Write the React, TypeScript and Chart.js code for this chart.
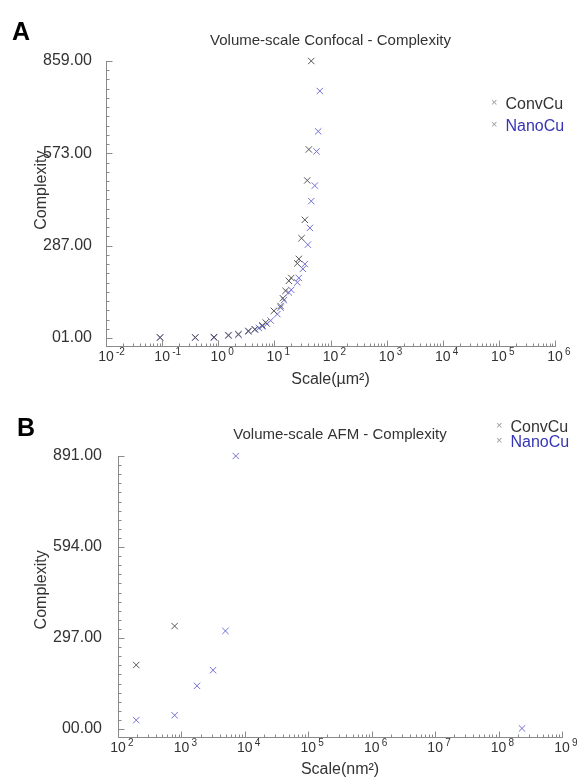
import React, { useEffect, useRef } from 'react';
import { Chart, registerables } from 'chart.js';
Chart.register(...registerables);

const FONT = "'Liberation Sans', Arial, Helvetica, sans-serif";

const seriesNames = ['ConvCu', 'NanoCu'];

// Panel A: Volume-scale Confocal - Complexity
const aConvX = [0.092, 0.39, 0.84, 1.52, 2.29, 3.44, 4.5, 6.1, 7.0, 9.8, 12.9, 14.2, 15.8, 18.1, 20, 25.6, 27.3, 30.5, 34.9, 38.5, 41.1, 45.4];
const aConvY = [3, 3, 4, 10, 13, 23, 28, 40, 49, 85, 100, 124, 147, 178, 187, 232, 246, 310, 367, 489, 585, 859];
const aNanoX = [0.092, 0.39, 0.84, 1.52, 2.29, 3.44, 4.5, 5.3, 6.1, 7.4, 8.6, 11.3, 12.9, 14.8, 18.1, 20, 25.6, 27.3, 32.2, 34.9, 39.5, 42.9, 45.4, 52.6, 56.4, 60.4, 64.6];
const aNanoY = [2, 2, 2, 8, 11, 21, 27, 32, 37, 45, 55, 75, 95, 118, 142, 150, 173, 187, 215, 230, 290, 342, 425, 473, 579, 641, 766];
const aYTicks = [1, 287, 573, 859];
const aYTickLabels = ['01.00', '287.00', '573.00', '859.00'];
const aXExponents = [-2, -1, 0, 1, 2, 3, 4, 5, 6];
const aXTickLabels = ['-2', '-1', '0', '1', '2', '3', '4', '5', '6'];

// Panel B: Volume-scale AFM - Complexity
const bConvX = [194, 781];
const bConvY = [209, 336];
const bNanoX = [194, 781, 1760, 3150, 4940, 7180, 2.34e8];
const bNanoY = [29, 45, 141, 192, 320, 891, 2];
const bYTicks = [0, 297, 594, 891];
const bYTickLabels = ['00.00', '297.00', '594.00', '891.00'];
const bXExponents = [2, 3, 4, 5, 6, 7, 8, 9];
const bXTickLabels = ['2', '3', '4', '5', '6', '7', '8', '9'];

const convColor = '#555555';
const nanoColor = '#7070d4';
const axisColor = '#8a8a8a';
const textColor = '#333333';

const innerTicks = {
  id: 'innerTicks',
  afterDraw(chart: any, _args: any, opts: any) {
    const { ctx, chartArea } = chart;
    const xs = chart.scales.x;
    const ys = chart.scales.y;
    ctx.save();
    ctx.strokeStyle = axisColor;
    ctx.lineWidth = 1;
    const exps: number[] = opts.xExps;
    const bottom = Math.round(chartArea.bottom) + 0.5;
    exps.forEach((e, i) => {
      const kmax = i === exps.length - 1 ? 1 : 9;
      for (let k = 1; k <= kmax; k++) {
        const px = Math.round(xs.getPixelForValue(k * Math.pow(10, e))) + 0.5;
        const len = k === 1 ? 6 : 3;
        ctx.beginPath();
        ctx.moveTo(px, bottom);
        ctx.lineTo(px, bottom - len);
        ctx.stroke();
      }
    });
    // decade labels: base "10" with raised exponent
    ctx.fillStyle = textColor;
    ctx.textBaseline = 'top';
    exps.forEach((e, i) => {
      const px = xs.getPixelForValue(Math.pow(10, e));
      ctx.font = `14px ${FONT}`;
      ctx.textAlign = 'center';
      ctx.fillText('10', px, chartArea.bottom + 4);
      ctx.font = `10px ${FONT}`;
      ctx.textAlign = 'left';
      ctx.fillText(opts.xLabels[i], px + 10, chartArea.bottom + 1);
    });
    const yt: number[] = opts.yTicks;
    const left = Math.round(chartArea.left) + 0.5;
    const step = (yt[1] - yt[0]) / 10;
    for (let i = 0; i < yt.length; i++) {
      const py = Math.round(ys.getPixelForValue(yt[i])) + 0.5;
      ctx.beginPath();
      ctx.moveTo(left, py);
      ctx.lineTo(left + 6, py);
      ctx.stroke();
      if (i < yt.length - 1) {
        for (let j = 1; j < 10; j++) {
          const pm = Math.round(ys.getPixelForValue(yt[i] + j * step)) + 0.5;
          ctx.beginPath();
          ctx.moveTo(left, pm);
          ctx.lineTo(left + 3, pm);
          ctx.stroke();
        }
      }
    }
    ctx.restore();
  },
};

function makeConfig(p: any) {
  const exps: number[] = p.xExps;
  return {
    type: 'scatter',
    data: {
      datasets: [
        {
          label: seriesNames[0],
          data: p.convX.map((x: number, i: number) => ({ x, y: p.convY[i] })),
          pointStyle: 'crossRot',
          radius: 4.5,
          borderWidth: 1,
          borderColor: convColor,
          backgroundColor: convColor,
          clip: false,
        },
        {
          label: seriesNames[1],
          data: p.nanoX.map((x: number, i: number) => ({ x, y: p.nanoY[i] })),
          pointStyle: 'crossRot',
          radius: 4.5,
          borderWidth: 1,
          borderColor: nanoColor,
          backgroundColor: nanoColor,
          clip: false,
        },
      ],
    },
    options: {
      animation: false,
      responsive: false,
      events: [],
      layout: { padding: { left: 0, right: p.padRight, top: 0, bottom: 0 } },
      plugins: {
        legend: { display: false },
        tooltip: { enabled: false },
        title: {
          display: true,
          text: p.title,
          fullSize: false,
          color: textColor,
          font: { size: 15, family: FONT, weight: 'normal' },
          padding: { top: p.titleTop, bottom: p.titleBottom },
        },
        innerTicks: { xExps: exps, yTicks: p.yTicks, xLabels: p.xLabels },
      },
      scales: {
        x: {
          type: 'logarithmic',
          min: Math.pow(10, exps[0]),
          max: Math.pow(10, exps[exps.length - 1]),
          afterBuildTicks: (s: any) => {
            s.ticks = exps.map((e) => ({ value: Math.pow(10, e), major: true }));
          },
          afterFit: (s: any) => {
            s.height = p.xAxisHeight;
          },
          grid: { display: false },
          border: { display: true, color: axisColor, width: 1 },
          ticks: { display: false },
          title: {
            display: true,
            text: p.xTitle,
            color: textColor,
            font: { size: 16, family: FONT },
            padding: { top: 0, bottom: p.xTitleBottom },
          },
        },
        y: {
          type: 'linear',
          min: p.yMin,
          max: p.yTicks[p.yTicks.length - 1],
          afterBuildTicks: (s: any) => {
            s.ticks = p.yTicks.map((v: number) => ({ value: v }));
          },
          afterFit: (s: any) => {
            s.width = p.yAxisWidth;
          },
          grid: { display: false },
          border: { display: true, color: axisColor, width: 1 },
          ticks: {
            padding: p.yTickPad,
            color: textColor,
            font: { size: 16, family: FONT },
            callback: (_v: any, i: number) => p.yLabels[i],
          },
          title: {
            display: true,
            text: p.yTitle,
            color: textColor,
            font: { size: 16, family: FONT },
            padding: { top: 32, bottom: 0 },
          },
        },
      },
    },
    plugins: [innerTicks],
  };
}

const panelA = {
  title: 'Volume-scale Confocal - Complexity',
  convX: aConvX, convY: aConvY, nanoX: aNanoX, nanoY: aNanoY,
  yTicks: aYTicks, yLabels: aYTickLabels, xExps: aXExponents, xLabels: aXTickLabels,
  xTitle: 'Scale(µm²)',
  yTitle: '      Complexity',
  yMin: -23.8,
  padRight: 32,
  titleTop: 32, titleBottom: 11,
  xAxisHeight: 46, xTitleBottom: 2.4,
  yAxisWidth: 106, yTickPad: 6,
};

const panelB = {
  title: 'Volume-scale AFM - Complexity',
  convX: bConvX, convY: bConvY, nanoX: bNanoX, nanoY: bNanoY,
  yTicks: bYTicks, yLabels: bYTickLabels, xExps: bXExponents, xLabels: bXTickLabels,
  xTitle: 'Scale(nm²)',
  yTitle: '   Complexity',
  yMin: -26,
  padRight: 25,
  titleTop: 34, titleBottom: 12,
  xAxisHeight: 46, xTitleBottom: 3.4,
  yAxisWidth: 118, yTickPad: 8,
};

function Panel({ cfg, top, height, letter, letterX, letterY, legendX, legendY, legendGap }: any) {
  const ref = useRef<HTMLCanvasElement>(null);
  useEffect(() => {
    const chart = new Chart(ref.current as HTMLCanvasElement, makeConfig(cfg) as any);
    return () => chart.destroy();
  }, []);
  const legendRow = (name: string, color: string, y: number) => (
    <div
      key={name}
      style={{ position: 'absolute', left: legendX, top: y - 10, height: 20, lineHeight: '20px', whiteSpace: 'nowrap', fontFamily: FONT }}
    >
      <span style={{ color: '#999', fontSize: 11, position: 'relative', top: -3, marginRight: 8 }}>×</span>
      <span style={{ color, fontSize: 16 }}>{name}</span>
    </div>
  );
  return (
    <div style={{ position: 'absolute', left: 0, top, width: 587, height }}>
      <canvas ref={ref} width={587} height={height} style={{ display: 'block', width: 587, height }} />
      <div style={{ position: 'absolute', left: letterX, top: letterY, fontFamily: FONT, fontWeight: 'bold', fontSize: 25, lineHeight: '25px', color: '#000' }}>
        {letter}
      </div>
      {legendRow(seriesNames[0], textColor, legendY)}
      {legendRow(seriesNames[1], '#3535b5', legendY + legendGap)}
    </div>
  );
}

export default function App() {
  return (
    <div style={{ position: 'absolute', left: 0, top: 0, width: 587, height: 783, background: '#fff', overflow: 'hidden' }}>
      <Panel cfg={panelA} top={0} height={392} letter="A" letterX={12} letterY={19} legendX={491} legendY={104} legendGap={22} />
      <Panel cfg={panelB} top={392} height={391} letter="B" letterX={17} letterY={23} legendX={496} legendY={35} legendGap={15} />
    </div>
  );
}
